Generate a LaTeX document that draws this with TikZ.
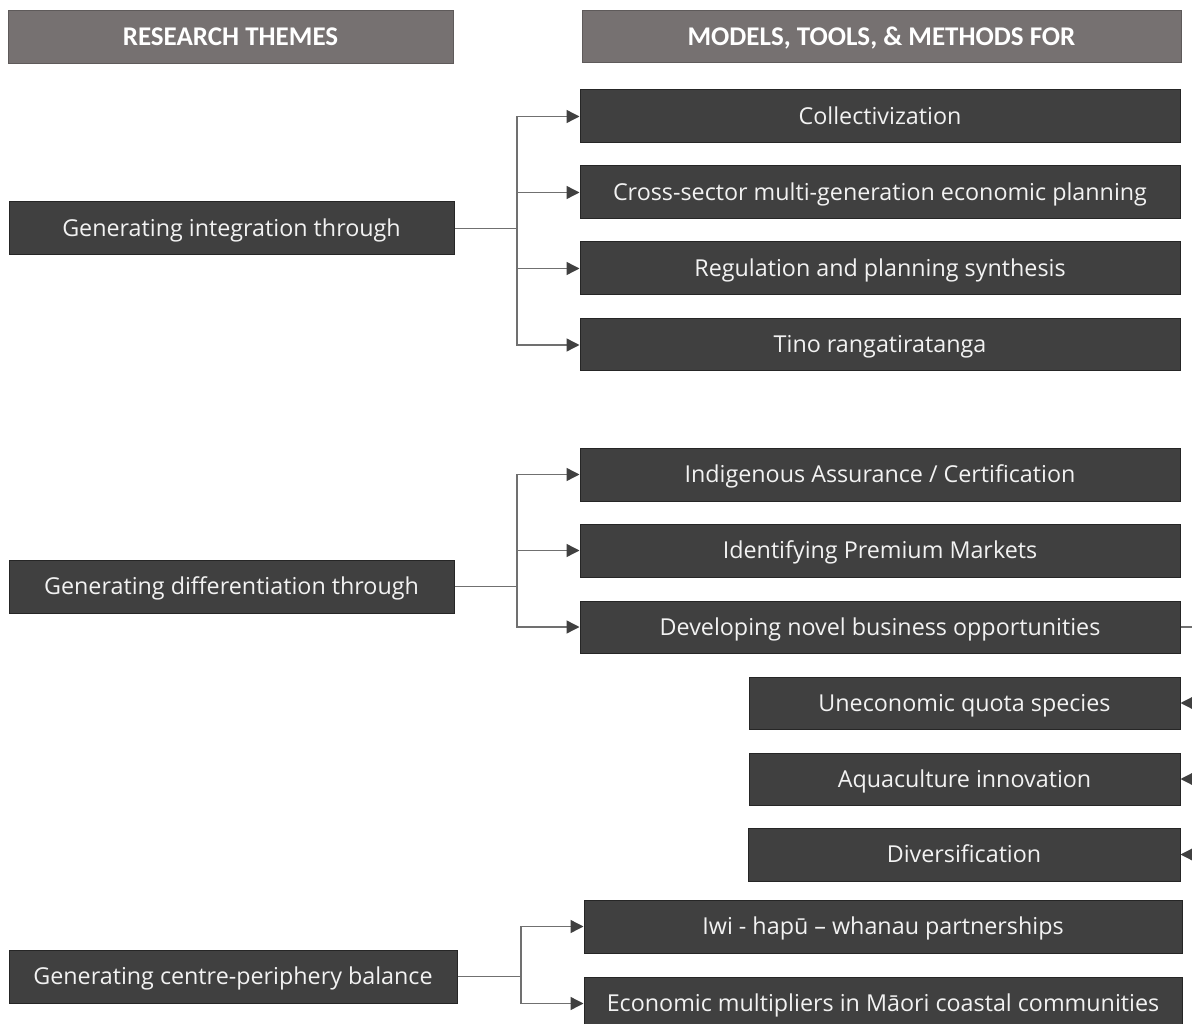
\documentclass[tikz,border=0pt]{standalone}
\usepackage{fontspec}
\setmainfont{Open Sans}
\newfontfamily\headfont{Carlito}
\usetikzlibrary{arrows.meta}
\definecolor{boxfill}{HTML}{404040}
\definecolor{boxline}{HTML}{262626}
\definecolor{headfill}{HTML}{767171}
\definecolor{linkgray}{HTML}{707070}
\definecolor{boxtext}{HTML}{F2F2F2}
\tikzset{
  headbox/.style={rectangle, fill=headfill, draw=headfill!80!black, line width=0.6pt,
    text=white, inner sep=0pt, text height=20pt, text depth=1pt,
    font=\headfont\bfseries\fontsize{27}{31}\selectfont},
  itembox/.style={rectangle, fill=boxfill, draw=boxline, line width=1pt,
    text=boxtext, inner sep=0pt, text height=19pt, text depth=3pt,
    font=\fontsize{23.3}{28}\selectfont},
  link/.style={draw=linkgray, line width=1.4pt},
  linkarrow/.style={link, -{Triangle[length=13pt,width=13pt,color=boxfill,fill=boxfill]}},
}
\begin{document}
\begin{tikzpicture}[x=1pt,y=-1pt]
\useasboundingbox (0,0) rectangle (1192,1024);
\clip (0,0) rectangle (1192,1024);
\fill[white] (0,0) rectangle (1192,1024);

% column headers
\node[headbox, minimum width=445pt, minimum height=53pt] (hleft) at (230.5,36.5) {RESEARCH THEMES};
\node[headbox, minimum width=599pt, minimum height=52pt] (hright) at (881.5,36) {MODELS, TOOLS, \& METHODS FOR};

% research themes
\node[itembox, minimum width=445pt, minimum height=53pt] (integ) at (231.5,228.5) {Generating integration through};
\node[itembox, minimum width=445pt, minimum height=53pt] (diff) at (231.5,586.5) {Generating differentiation through};
\node[itembox, minimum width=448pt, minimum height=53pt] (centre) at (233,976.5) {Generating centre-periphery balance};

% integration branch
\node[itembox, minimum width=600pt, minimum height=53pt] (collect) at (880,116.5) {Collectivization};
\node[itembox, minimum width=600pt, minimum height=53pt] (cross) at (880,192.5) {Cross-sector multi-generation economic planning};
\node[itembox, minimum width=600pt, minimum height=53pt] (regul) at (880,268.5) {Regulation and planning synthesis};
\node[itembox, minimum width=600pt, minimum height=52pt] (tino) at (880,345) {Tino rangatiratanga};

% differentiation branch
\node[itembox, minimum width=600pt, minimum height=53pt] (indig) at (880,474.5) {Indigenous Assurance / Certification};
\node[itembox, minimum width=600pt, minimum height=53pt] (premium) at (880,550.5) {Identifying Premium Markets};
\node[itembox, minimum width=600pt, minimum height=52pt] (novel) at (880,627) {Developing novel business opportunities};
\node[itembox, minimum width=431pt, minimum height=52pt] (quota) at (964.5,703) {Uneconomic quota species};
\node[itembox, minimum width=431pt, minimum height=52pt] (aqua) at (964.5,779) {Aquaculture innovation};
\node[itembox, minimum width=432pt, minimum height=53pt] (divers) at (964,854.5) {Diversification};

% centre-periphery branch
\node[itembox, minimum width=598pt, minimum height=53pt] (iwi) at (883,926.5) {Iwi - hapū – whanau partnerships};
\node[itembox, minimum width=598pt, minimum height=53pt] (multi) at (883,1003.5) {Economic multipliers in Māori coastal communities};

% junction points
\coordinate (jinteg) at (517,228.5);
\coordinate (jdiff) at (517,586.5);
\coordinate (jcentre) at (521,976.5);
\coordinate (jnovel) at (1210,627);

% connectors
\draw[link] (integ.east) -- (jinteg);
\foreach \tg in {collect,cross,regul,tino} \draw[linkarrow] (jinteg) |- (\tg.west);
\draw[link] (diff.east) -- (jdiff);
\foreach \tg in {indig,premium,novel} \draw[linkarrow] (jdiff) |- (\tg.west);
\draw[link] (centre.east) -- (jcentre);
\foreach \tg in {iwi,multi} \draw[linkarrow] (jcentre) |- (\tg.west);
\draw[link] (novel.east) -- (jnovel);
\foreach \tg in {quota,aqua,divers} \draw[linkarrow] (jnovel) |- (\tg.east);
\end{tikzpicture}
\end{document}
